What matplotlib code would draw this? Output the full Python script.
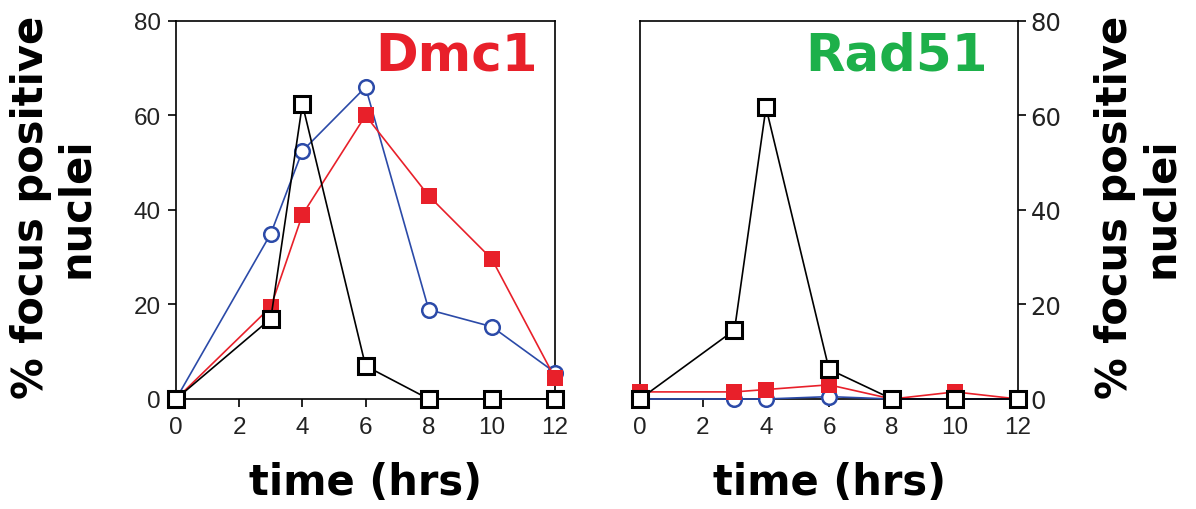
import matplotlib
matplotlib.use("Agg")
import matplotlib.pyplot as plt

# time points (hrs)
hours = [0, 3, 4, 6, 8, 10, 12]

# Dmc1 panel
dmc1_black = [0, 17, 62.4, 7, 0, 0, 0]
dmc1_blue = [0, 35, 52.5, 66, 18.9, 15.3, 5.6]
dmc1_red = [0, 19.5, 39, 60, 43, 29.6, 4.4]

# Rad51 panel
rad51_black = [0, 14.6, 61.7, 6.3, 0, 0, 0]
rad51_blue = [0, 0, 0, 0.5, 0, 0, 0]
rad51_red = [1.5, 1.5, 2, 3, 0, 1.5, 0]

xticks = [0, 2, 4, 6, 8, 10, 12]
yticks = [0, 20, 40, 60, 80]

RED = "#e8202a"
BLUE = "#2b4aa8"
GREEN = "#1db04a"

fig = plt.figure(figsize=(11.96, 5.10), dpi=100)
ax1 = fig.add_axes([0.1472, 0.2157, 0.3169, 0.7412])
ax2 = fig.add_axes([0.5351, 0.2157, 0.3161, 0.7412])


def draw(ax, blue, red, black):
    ax.plot(hours, blue, color=BLUE, lw=1.2, marker="o", ms=10.5,
            mfc="white", mec=BLUE, mew=1.8, clip_on=False, zorder=3)
    ax.plot(hours, red, color=RED, lw=1.2, marker="s", ms=11.5,
            mfc=RED, mec=RED, mew=0, clip_on=False, zorder=4)
    ax.plot(hours, black, color="black", lw=1.2, marker="s", ms=11,
            mfc="white", mec="black", mew=2.2, clip_on=False, zorder=5)
    ax.set_xlim(0, 12)
    ax.set_ylim(0, 80)
    ax.set_xticks(xticks)
    ax.set_yticks(yticks)
    for s in ax.spines.values():
        s.set_linewidth(1.2)
    ax.tick_params(direction="out", length=6, width=1.2, labelsize=17.5,
                   labelcolor="#222222")
    for lab in ax.get_xticklabels() + ax.get_yticklabels():
        lab.set_fontfamily("Liberation Sans")


draw(ax1, dmc1_blue, dmc1_red, dmc1_black)
draw(ax2, rad51_blue, rad51_red, rad51_black)

ax1.tick_params(axis="y", pad=5)
ax1.tick_params(axis="x", pad=6)
ax2.yaxis.tick_right()
ax2.tick_params(axis="y", pad=3)
ax2.tick_params(axis="x", pad=6)

ax1.text(0.955, 0.975, "Dmc1", transform=ax1.transAxes, ha="right", va="top",
         color=RED, fontsize=37, fontweight="bold", family="DejaVu Sans")
ax2.text(0.921, 0.975, "Rad51", transform=ax2.transAxes, ha="right", va="top",
         color=GREEN, fontsize=37, fontweight="bold", family="DejaVu Sans")

ylab = "% focus positive\nnuclei"
for x in [0.045, 0.9515]:
    fig.text(x, 0.593, ylab, rotation=90, ha="center", va="center",
             multialignment="center", fontsize=30, fontweight="bold",
             family="DejaVu Sans", linespacing=1.1)

for x in [0.3056, 0.6932]:
    fig.text(x, 0.053, "time (hrs)", ha="center", va="center",
             fontsize=30, fontweight="bold", family="DejaVu Sans")

fig.savefig("out.png", dpi=100)
